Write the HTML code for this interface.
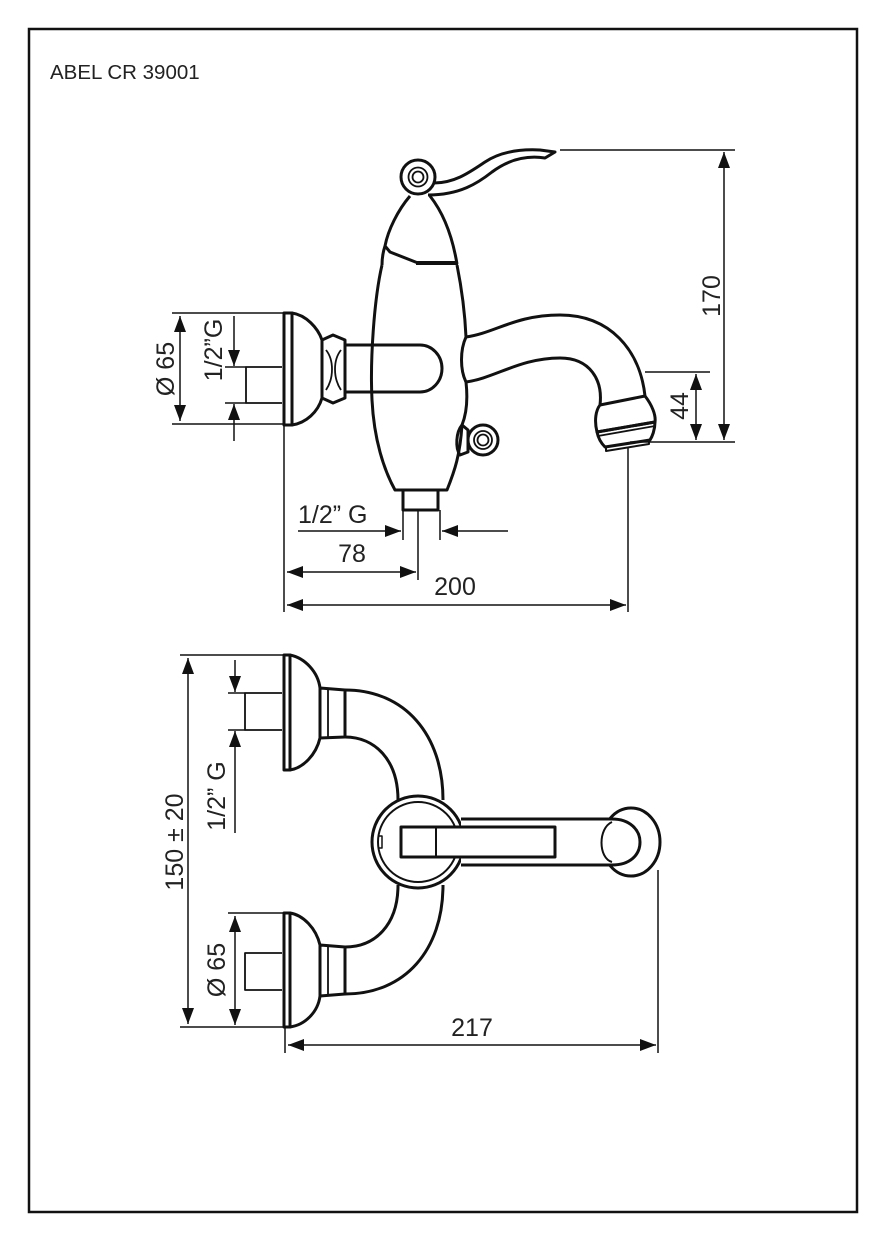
<!DOCTYPE html>
<html><head><meta charset="utf-8"><style>
html,body{margin:0;padding:0;background:#fff;}
svg{display:block;}
text{font-family:"Liberation Sans",sans-serif;fill:#222;}
</style></head><body>
<svg width="886" height="1241" viewBox="0 0 886 1241" xmlns="http://www.w3.org/2000/svg">
<defs>
<marker id="b" viewBox="0 0 10 10" refX="10" refY="5" markerWidth="16" markerHeight="12" orient="auto-start-reverse" markerUnits="userSpaceOnUse" preserveAspectRatio="none"><path d="M0,0 L10,5 L0,10 z" fill="#111"/></marker>
</defs>
<rect x="29" y="29" width="828" height="1183" fill="none" stroke="#111" stroke-width="2.5"/>
<text x="50" y="79" font-size="20.5">ABEL CR 39001</text>

<g fill="none" stroke="#111" stroke-width="3" stroke-linejoin="round">
<path d="M284,313 L292,313 L292,425 L284,425 Z"/>
<path d="M292,313 C306,315 318,328 322,340 M322,398 C318,412 306,423 292,425"/>
<path d="M322,340 L333,335 L345,340 L345,398 L333,403 L322,398 Z"/>
<path d="M326,350 C334,360 334,378 326,390 M341,350 C333,360 333,378 341,390" stroke-width="1.8"/>
<path d="M282,367 L246,367 L246,403 L282,403" stroke-width="1.8"/>
<path d="M345,345 L420,345 A22,23.5 0 0 1 420,392 L345,392"/>
<path d="M410,196 C398,210 388,230 385,246 L390,252 L418,263 M385,246 C383,252 382,258 382,265"/>
<path d="M430,196 C445,215 453,240 457,264"/>
<path d="M416,263 L458,263" stroke-width="4"/>
<path d="M382,265 C374,300 370,360 372,400 C374,440 384,470 395,490 L447,490 C455,470 460,455 462,425"/>
<path d="M457,265 C462,290 465,315 466,337 C460,350 460,370 466,382 C468,400 466,415 462,425"/>
<path d="M403,490 L403,510 L438,510 L438,490"/>
<path d="M466,337 C495,333 515,315 560,315 C610,315 640,350 645,396"/>
<path d="M466,382 C495,378 520,358 560,358 C590,358 603,380 600,405"/>
<path d="M600,405 L645,396 C652,405 656,415 655,422 L597,432 C594,420 596,410 600,405 Z"/>
<path d="M597,432 L655,422 C655,430 652,437 650,440 L605,447 C600,442 598,437 597,432 Z"/>
<path d="M598,436 L655,426" stroke-width="1.8"/>
<path d="M606,447 L606,451 L649,444 L649,440" stroke-width="2"/>
<circle cx="418" cy="177" r="17"/>
<circle cx="418" cy="177" r="9.5" stroke-width="1.8"/>
<circle cx="418" cy="177" r="5.5" stroke-width="1.8"/>
<path d="M434,183 C455,183 470,172 485,162 C500,152 520,149 540,150 L555,152 L545,158 C525,155 508,160 492,172 C478,183 460,195 428,195"/>
<path d="M462,425 C456,432 455,448 460,455 L468,452 L468,430 Z"/>
<circle cx="483" cy="440" r="15"/>
<circle cx="483" cy="440" r="9" stroke-width="1.8"/>
<circle cx="483" cy="440" r="5.5" stroke-width="1.8"/>
</g>

<g stroke="#111" stroke-width="1.5" fill="none">
<path d="M172,313 L284,313 M172,424 L284,424"/>
<line x1="180" y1="316" x2="180" y2="421" marker-start="url(#b)" marker-end="url(#b)"/>
<path d="M225,367 L246,367 M225,403 L246,403"/>
<line x1="234" y1="316" x2="234" y2="366" marker-end="url(#b)"/>
<line x1="234" y1="441" x2="234" y2="404" marker-end="url(#b)"/>
<path d="M560,150 L735,150 M630,442 L735,442 M645,372 L710,372"/>
<line x1="724" y1="152" x2="724" y2="440" marker-start="url(#b)" marker-end="url(#b)"/>
<line x1="696" y1="374" x2="696" y2="440" marker-start="url(#b)" marker-end="url(#b)"/>
<path d="M284,424 L284,612 M628,448 L628,612 M418,510 L418,580 M403,510 L403,540 M440,510 L440,540"/>
<line x1="287" y1="605" x2="626" y2="605" marker-start="url(#b)" marker-end="url(#b)"/>
<line x1="287" y1="572" x2="416" y2="572" marker-start="url(#b)" marker-end="url(#b)"/>
<line x1="298" y1="531" x2="401" y2="531" marker-end="url(#b)"/>
<line x1="508" y1="531" x2="442" y2="531" marker-end="url(#b)"/>
</g>
<g font-size="25">
<text transform="translate(174,369) rotate(-90)" text-anchor="middle">Ø 65</text>
<text transform="translate(222,350) rotate(-90)" text-anchor="middle">1/2”G</text>
<text transform="translate(720,296) rotate(-90)" text-anchor="middle">170</text>
<text transform="translate(688,406) rotate(-90)" text-anchor="middle">44</text>
<text x="455" y="595" text-anchor="middle">200</text>
<text x="352" y="562" text-anchor="middle">78</text>
<text x="298" y="523">1/2” G</text>
</g>

<g fill="none" stroke="#111" stroke-width="3" stroke-linejoin="round">
<path d="M284,655 L290,655 L290,770 L284,770 Z"/>
<path d="M290,655 C305,658 318,672 320,688 M320,738 C316,755 303,768 290,770"/>
<path d="M320,688 L345,690 L345,737 L320,738 Z"/>
<path d="M328,689 L328,737" stroke-width="1.8"/>
<path d="M282,693 L245,693 L245,730 L282,730" stroke-width="1.8"/>
<path d="M284,913 L290,913 L290,1027 L284,1027 Z"/>
<path d="M290,913 C303,915 316,928 320,945 M320,996 C318,1012 305,1025 290,1027"/>
<path d="M320,945 L345,947 L345,994 L320,996 Z"/>
<path d="M328,946 L328,995" stroke-width="1.8"/>
<path d="M282,953 L245,953 L245,990 L282,990" stroke-width="1.8"/>
<path d="M345,690 C405,690 443,735 443,800"/>
<path d="M345,737 C375,737 398,760 398,800"/>
<path d="M345,994 C405,994 443,950 443,885"/>
<path d="M345,947 C375,947 398,925 398,885"/>
<circle cx="418" cy="842" r="46" fill="#fff"/>
<circle cx="418" cy="842" r="40" stroke-width="2"/>
<path d="M378,836 L382,836 L382,848 L378,848" stroke-width="1.5"/>
<ellipse cx="631" cy="842" rx="29" ry="34" fill="#fff"/>
<path d="M461,819 L612,819 C630,819 640,830 640,842 C640,855 630,865 612,865 L461,865" fill="#fff"/>
<path d="M612,822 C598,828 598,858 612,862" stroke-width="2"/>
<rect x="401" y="827" width="154" height="30" fill="#fff"/>
<line x1="436" y1="827" x2="436" y2="857" stroke-width="2"/>
</g>
<g stroke="#111" stroke-width="1.5" fill="none">
<path d="M180,655 L284,655 M180,1027 L284,1027"/>
<line x1="188" y1="658" x2="188" y2="1024" marker-start="url(#b)" marker-end="url(#b)"/>
<path d="M228,693 L245,693 M228,730 L245,730 M228,913 L284,913"/>
<line x1="235" y1="660" x2="235" y2="692" marker-end="url(#b)"/>
<line x1="235" y1="833" x2="235" y2="731" marker-end="url(#b)"/>
<line x1="235" y1="916" x2="235" y2="1025" marker-start="url(#b)" marker-end="url(#b)"/>
<path d="M285,1027 L285,1053 M658,870 L658,1053"/>
<line x1="288" y1="1045" x2="656" y2="1045" marker-start="url(#b)" marker-end="url(#b)"/>
</g>
<g font-size="25">
<text transform="translate(183,842) rotate(-90)" text-anchor="middle">150 ± 20</text>
<text transform="translate(225,796) rotate(-90)" text-anchor="middle">1/2” G</text>
<text transform="translate(225,970) rotate(-90)" text-anchor="middle">Ø 65</text>
<text x="472" y="1036" text-anchor="middle">217</text>
</g>
</svg>
</body></html>
